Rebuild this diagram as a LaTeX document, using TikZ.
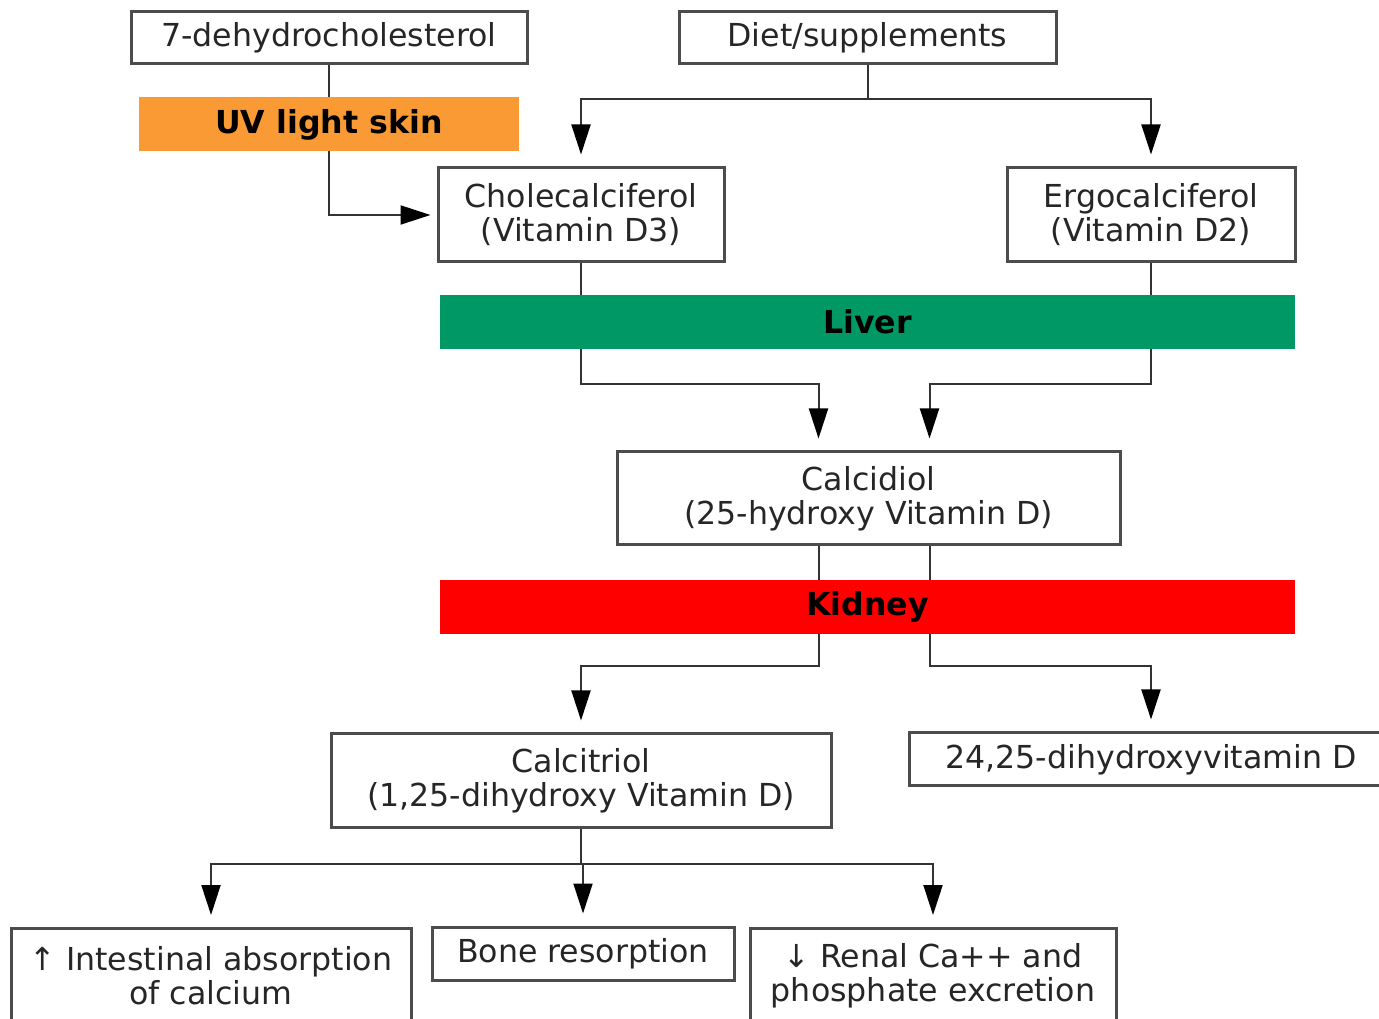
\documentclass[tikz,border=0pt]{standalone}
\usepackage{fontspec}
\setmainfont{DejaVu Sans}
\usetikzlibrary{arrows.meta,positioning,backgrounds}

\definecolor{uvorange}{HTML}{FA9A35}
\definecolor{livergreen}{HTML}{009966}
\definecolor{kidneyred}{HTML}{FF0000}

\begin{document}
\begin{tikzpicture}[x=0.1mm, y=-0.1mm, >={Triangle[length=3mm,width=1.9mm,color=black]},
  box/.style={draw=black!70, line width=0.3mm, fill=white, text=black!85, align=center, inner sep=0pt, font=\fontsize{9}{9.7}\selectfont},
  bar/.style={inner sep=0pt, font=\fontsize{9}{9.7}\selectfont\bfseries, minimum height=5.4mm},
  line/.style={draw=black!80, line width=0.2mm},
  arr/.style={line, ->, shorten >=1.2mm}]

\useasboundingbox (0,0) rectangle (1379,1019);
\clip (0,0) rectangle (1379,1019);

% Quellen
\node[box, minimum width=39.6mm, minimum height=5.2mm] (dhc) at (329,38) {7-dehydrocholesterol};
\node[box, minimum width=37.7mm, minimum height=5.2mm] (diet) at (867.5,38) {Diet/supplements};
\node[bar, fill=uvorange, minimum width=38mm] (uv) at (329,124.5) {UV light skin};

% Vitamin D3 / D2
\node[box, minimum width=28.6mm, minimum height=9.4mm] (chol) at (581,215) {Cholecalciferol\\(Vitamin D3)};
\node[box, minimum width=28.8mm, minimum height=9.4mm] (ergo) at (1151,215) {Ergocalciferol\\(Vitamin D2)};

% Leber
\node[bar, fill=livergreen, minimum width=85.5mm] (liver) at (867.5,322) {Liver};

\node[box, minimum width=50.3mm, minimum height=9.3mm] (calcidiol) at (868.5,498.5) {Calcidiol\\(25-hydroxy Vitamin D)};

% Niere
\node[bar, fill=kidneyred, minimum width=85.5mm] (kidney) at (867.5,607) {Kidney};

\node[box, minimum width=50mm, minimum height=9.4mm] (calcitriol) at (581,781) {Calcitriol\\(1,25-dihydroxy Vitamin D)};
\node[box, minimum width=48.4mm, minimum height=5.3mm] (dihyd) at (1151,759.5) {24,25-dihydroxyvitamin D};

% Wirkungen
\node[box, anchor=north, minimum width=40mm, minimum height=9.5mm] (intest) at (211,927) {↑ Intestinal absorption\\of calcium};
\node[box, minimum width=30.2mm, minimum height=5.3mm] (bone) at (583,953.5) {Bone resorption};
\node[box, anchor=north, minimum width=36.6mm, minimum height=9.5mm] (renal) at (933,927) {↓ Renal Ca++ and\\phosphate excretion};

% Verbindungen
\begin{scope}[on background layer]
\draw[arr, shorten >=0.6mm] (dhc.south) |- (chol.west);
\draw[arr] (diet.south) -- ++(0,34) -| (chol.north);
\draw[arr] (diet.south) -- ++(0,34) -| (ergo.north);
\draw[arr] (chol.south) -- ++(0,121) -| ([xshift=-5mm]calcidiol.north);
\draw[arr] (ergo.south) -- ++(0,121) -| ([xshift=6.1mm]calcidiol.north);
\draw[arr] ([xshift=-5mm]calcidiol.south) -- ++(0,120) -| (calcitriol.north);
\draw[arr] ([xshift=6.1mm]calcidiol.south) -- ++(0,120) -| (dihyd.north);
\draw[line] (calcitriol.south) -- ++(0,34) coordinate (split);
\draw[arr] (split) -| (intest.north);
\draw[arr] (split) -| (bone.north);
\draw[arr] (split) -| (renal.north);
\end{scope}

\end{tikzpicture}
\end{document}
